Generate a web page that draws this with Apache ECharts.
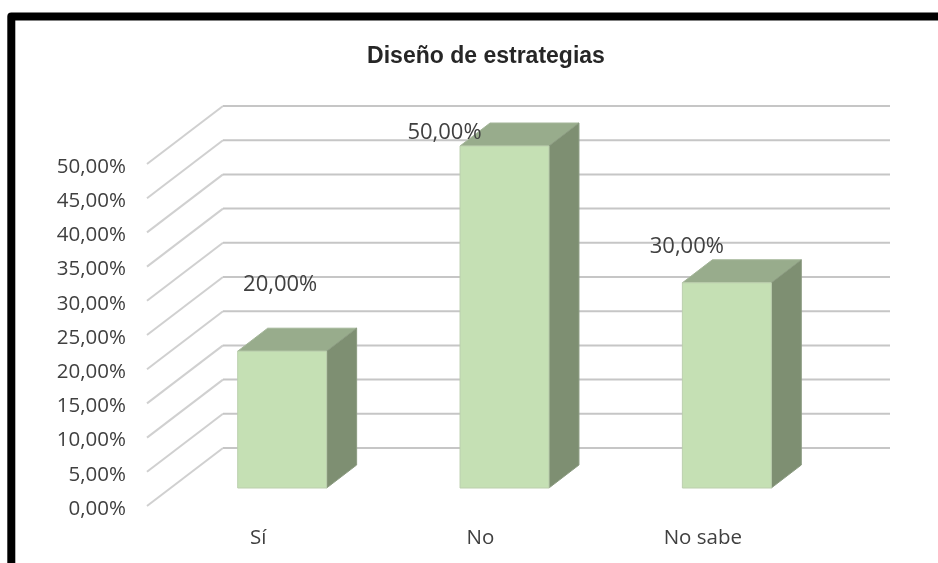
<!DOCTYPE html>
<html>
<head>
<meta charset="utf-8">
<style>
  html, body { margin: 0; padding: 0; background: #fff; }
  #chart { width: 938px; height: 563px; }
</style>
<script src="https://cdn.jsdelivr.net/npm/echarts@6/dist/echarts.min.js"></script>
</head>
<body>
<div id="chart"></div>
<script>
const categories = ['Sí', 'No', 'No sabe'];
const values = [20, 50, 30];
const ticks = [0, 5, 10, 15, 20, 25, 30, 35, 40, 45, 50];

// fake 3D: depth of the floor and of a bar, in pixels
const wallDx = 76, wallDy = -58;
const barFrontDx = 24, barFrontDy = -18;
const barDx = 30, barDy = -23;
// the data labels sit away from the bars in the original
const labelShift = [[-2, -66], [-60, -13], [-40, -36]];

const pct = (v) => v.toFixed(2).replace('.', ',') + '%';
const textFont = '"Open Sans", "Noto Sans", sans-serif';

function renderWall(params, api) {
  const y = api.coord([0, api.value(0)])[1];
  const x0 = params.coordSys.x;
  const x1 = x0 + params.coordSys.width;
  return {
    type: 'group',
    children: [
      {
        type: 'line',
        shape: { x1: x0, y1: y, x2: x0 + wallDx, y2: y + wallDy },
        style: { stroke: '#d0d0d0', lineWidth: 2 },
      },
      {
        type: 'line',
        shape: { x1: x0 + wallDx, y1: y + wallDy, x2: x1 + wallDx, y2: y + wallDy },
        style: { stroke: '#c6c6c6', lineWidth: 2 },
      },
    ],
  };
}

function renderBar(params, api) {
  const top = api.coord([api.value(0), api.value(1)]);
  const base = api.coord([api.value(0), 0]);
  const w = api.size([1, 0])[0] * 0.4;
  const xl = top[0] + barFrontDx - w / 2;
  const xr = xl + w;
  const yt = top[1] + barFrontDy;
  const yb = base[1] + barFrontDy;
  const shift = labelShift[params.dataIndex];
  return {
    type: 'group',
    children: [
      {
        type: 'polygon',
        shape: { points: [[xl, yt], [xr, yt], [xr + barDx, yt + barDy], [xl + barDx, yt + barDy]] },
        style: { fill: '#98ac8c', stroke: '#a3b598', lineWidth: 1 },
      },
      {
        type: 'polygon',
        shape: { points: [[xr, yt], [xr + barDx, yt + barDy], [xr + barDx, yb + barDy], [xr, yb]] },
        style: { fill: '#7e8f72', stroke: '#8c9c82', lineWidth: 1 },
      },
      {
        type: 'rect',
        shape: { x: xl, y: yt, width: w, height: yb - yt },
        style: { fill: '#c5e0b4', stroke: '#bccfae', lineWidth: 1 },
      },
      {
        type: 'text',
        z2: 10,
        style: {
          x: (xl + xr) / 2 + shift[0],
          y: yt + shift[1],
          text: pct(api.value(1)),
          align: 'center',
          verticalAlign: 'middle',
          fill: '#404040',
          font: '22px ' + textFont,
        },
      },
    ],
  };
}

const chart = echarts.init(document.getElementById('chart'));
chart.setOption({
  animation: false,
  backgroundColor: '#fff',
  title: {
    text: 'Diseño de estrategias',
    left: 481,
    top: 40,
    textAlign: 'center',
    textStyle: { fontFamily: '"Liberation Sans", sans-serif', fontSize: 23, fontWeight: 'bold', color: '#262626' },
  },
  graphic: [
    {
      type: 'polyline',
      shape: { points: [[11.3, 563], [11.3, 16.5], [938, 16.5]] },
      style: { stroke: '#000', lineWidth: 8, fill: null, lineJoin: 'round' },
    },
  ],
  grid: { left: 147, top: 164, width: 667, height: 342 },
  xAxis: {
    type: 'category',
    data: categories,
    axisLine: { show: false },
    axisTick: { show: false },
    axisLabel: { margin: 22, color: '#404040', fontSize: 20.5, fontFamily: textFont },
  },
  yAxis: {
    type: 'value',
    min: 0,
    max: 50,
    interval: 5,
    axisLine: { show: false },
    axisTick: { show: false },
    splitLine: { show: false },
    axisLabel: {
      margin: 21,
      color: '#404040',
      fontFamily: textFont,
      formatter: (v) => '{t|' + pct(v) + '}',
      rich: { t: { fontSize: 20.5, fontFamily: textFont, color: '#404040', padding: [6, 0, 0, 0] } },
    },
  },
  series: [
    {
      type: 'custom',
      renderItem: renderWall,
      data: ticks.map((t) => [t]),
      encode: { y: 0 },
      silent: true,
      z: 1,
    },
    {
      type: 'custom',
      renderItem: renderBar,
      data: values.map((v, i) => [i, v]),
      encode: { x: 0, y: 1 },
      z: 2,
    },
  ],
});
</script>
</body>
</html>
